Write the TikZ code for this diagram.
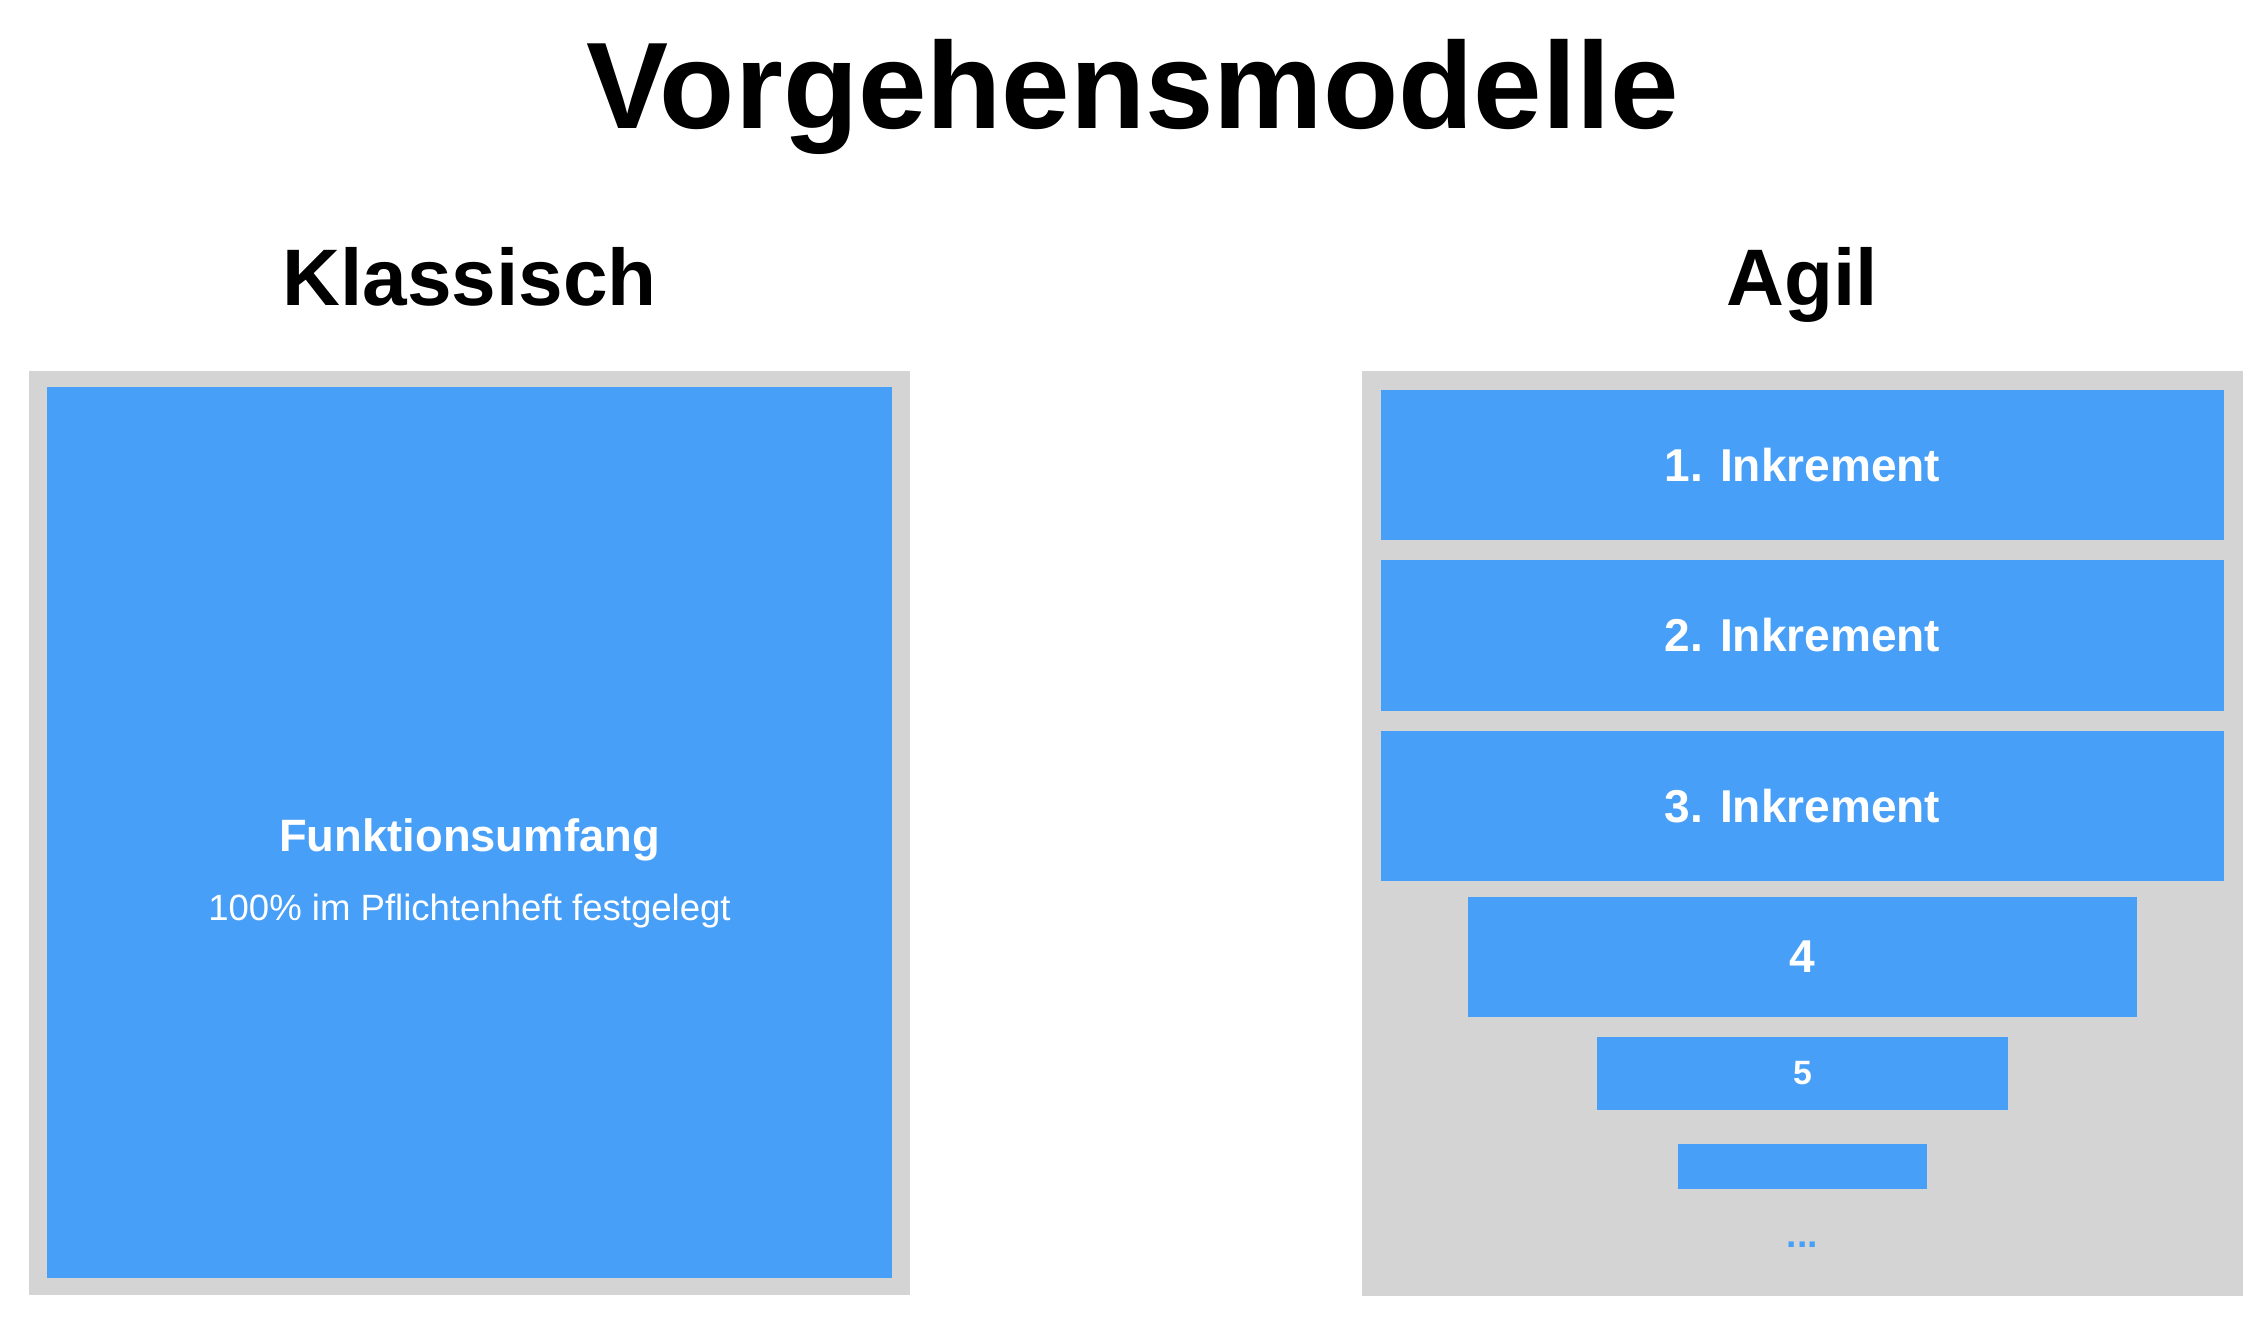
\documentclass[tikz,border=0pt]{standalone}
\usepackage{fontspec}
\setmainfont{Liberation Sans}
\usetikzlibrary{positioning}
\definecolor{Frame}{HTML}{D4D4D4}
\definecolor{Sky}{HTML}{489FF7}

\begin{document}
\begin{tikzpicture}[x=0.01cm,y=-0.01cm,node distance=0.19cm,
    frame/.style={fill=Frame,inner sep=0pt,minimum width=8.81cm},
    inc/.style={fill=Sky,inner sep=0pt,text=white,font=\bfseries\fontsize{13.1}{15}\selectfont},
    head/.style={anchor=base,font=\bfseries\fontsize{22.8}{26}\selectfont}]
  \useasboundingbox[fill=white] (0,0) rectangle (2266,1320);
  \node[anchor=base,font=\bfseries\fontsize{35}{40}\selectfont] (title) at (1133,128) {Vorgehensmodelle};
  \node[head] (klass) at (469.5,305) {Klassisch};
  \node[head] (agil) at (1802.5,305) {Agil};
  % left: fixed scope
  \node[frame,minimum height=9.24cm] (fixbox) at (469.5,833) {};
  \node[fill=Sky,inner sep=0pt,minimum width=8.45cm,minimum height=8.91cm] (umfang) at (469.5,832.5) {};
  \node[anchor=base,text=white,font=\bfseries\fontsize{12.9}{15}\selectfont] (umfangtxt) at (469.5,851) {Funktionsumfang};
  \node[anchor=base,text=white,font=\fontsize{10.4}{12}\selectfont] (pflicht) at (469.5,920) {100\% im Pflichtenheft festgelegt};
  % right: increments
  \node[frame,minimum height=9.25cm] (agilbox) at (1802.5,833.5) {};
  \node[inc,minimum width=8.43cm,minimum height=1.5cm] (i1) at (1802.5,465) {1. Inkrement};
  \node[inc,minimum width=8.43cm,minimum height=1.5cm,below=of i1] (i2) {2. Inkrement};
  \node[inc,minimum width=8.43cm,minimum height=1.5cm,below=of i2] (i3) {3. Inkrement};
  \node[inc,minimum width=6.69cm,minimum height=1.19cm,below=0.15cm of i3] (i4) {4};
  \node[inc,minimum width=4.11cm,minimum height=0.73cm,below=of i4,font=\bfseries\fontsize{9.6}{11}\selectfont] (i5) {5};
  \node[inc,minimum width=2.49cm,minimum height=0.45cm,below=0.33cm of i5] (i6) {};
  \node[anchor=base,text=Sky,font=\bfseries\fontsize{10.6}{12}\selectfont] (mehr) at (1802.5,1247) {...};
\end{tikzpicture}
\end{document}
